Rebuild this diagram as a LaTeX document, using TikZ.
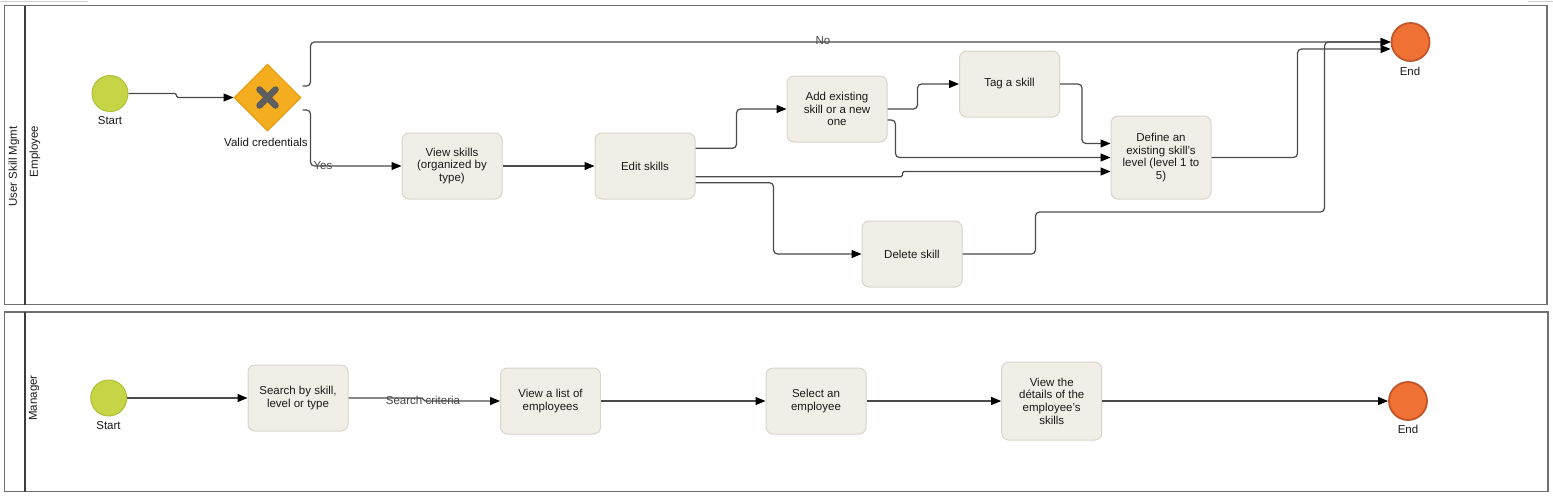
\documentclass[tikz,border=0pt]{standalone}
\usepackage{fontspec}
\setmainfont{Liberation Sans}
\usetikzlibrary{shapes.geometric,arrows.meta,calc}
\definecolor{boxfill}{HTML}{F1EEE7}
\definecolor{boxdraw}{HTML}{D9D5CB}
\definecolor{startfill}{HTML}{C5D545}
\definecolor{startdraw}{HTML}{AEC03A}
\definecolor{endfill}{HTML}{F07134}
\definecolor{enddraw}{HTML}{C2552A}
\definecolor{gwfill}{HTML}{F3AD1F}
\definecolor{gwdraw}{HTML}{E39B0E}
\definecolor{xmark}{HTML}{5E5E5E}
\definecolor{flowc}{HTML}{4A4A4A}
\definecolor{txt}{HTML}{1A1A1A}
\definecolor{lblc}{HTML}{474747}
\definecolor{poolc}{HTML}{707070}
\definecolor{headc}{HTML}{3C3C3C}
\definecolor{faint}{HTML}{CFCFCF}
\begin{document}
\begin{tikzpicture}[x=1pt,y=-1pt,
  font=\fontsize{11.5}{12.6}\selectfont,
  task/.style={draw=boxdraw, fill=boxfill, rounded corners=7pt, minimum width=100pt, minimum height=66pt, align=center, inner sep=2pt, line width=1pt, text=txt},
  startev/.style={circle, draw=startdraw, fill=startfill, minimum size=36pt, inner sep=0pt, line width=1pt},
  endev/.style={circle, draw=enddraw, fill=endfill, minimum size=38pt, inner sep=0pt, line width=1.8pt},
  gateway/.style={diamond, draw=gwdraw, fill=gwfill, minimum width=67pt, minimum height=67pt, inner sep=0pt, line width=1pt},
  flow/.style={draw=flowc, line width=1.2pt, rounded corners=4pt, -{Triangle[length=10pt,width=8pt,color=black]}},
  jog/.style={rounded corners=1.5pt},
  evlabel/.style={text=txt, inner sep=0pt},
  flowlabel/.style={text=lblc, inner sep=0pt},
  pool/.style={draw=poolc, line width=1.6pt},
  header/.style={draw=headc, line width=1.1pt},
  lanelabel/.style={rotate=90, text=txt, inner sep=0pt}]
\useasboundingbox (0,0) rectangle (1553,496);
\fill[white] (0,0) rectangle (1553,496);
% faint frame fragments
\draw[faint, line width=1pt] (0,1) -- (88,1);
\draw[faint, line width=1pt] (1528,1) -- (1553,1);
% pools
\draw[pool] (4.5,5.5) rectangle (1547,304.5);
\draw[header] (25,5.5) -- (25,304.5);
\draw[pool] (4.5,312) rectangle (1548,491.5);
\draw[header] (25,312) -- (25,491.5);
\node[lanelabel] (poolname) at (14,166.5) {User Skill Mgmt};
\node[lanelabel] (laneemp) at (35,151.5) {Employee};
\node[lanelabel] (lanemgr) at (34,398) {Manager};

% ---------- Employee lane ----------
\node[startev] (s1) at (110,93.5) {};
\node[evlabel] (s1l) at (110,121) {Start};
\node[gateway] (gw) at (267.5,97.5) {};
\draw[xmark, line width=6.5pt, line cap=round] ($(gw.center)+(-8,-8)$) -- ($(gw.center)+(8,8)$);
\draw[xmark, line width=6.5pt, line cap=round] ($(gw.center)+(-8,8)$) -- ($(gw.center)+(8,-8)$);
\node[evlabel] (gwl) at (266,142) {Valid credentials};
\node[task] (v1) at (452,166) {View skills\\(organized by\\type)};
\node[task] (ed) at (645,166) {Edit skills};
\node[task] (add) at (837,109) {Add existing\\skill or a new\\one};
\node[task] (tag) at (1009.5,84) {Tag a skill};
\node[task, minimum height=83pt] (def) at (1161,157.5) {Define an\\existing skill's\\level (level 1 to\\5)};
\node[task] (del) at (912,254) {Delete skill};
\node[endev] (e1) at (1410.5,42) {};
\node[evlabel] (e1l) at (1410,71.5) {End};

\draw[flow, jog] (s1.east) -- ++(48,0) |- (gw.west);
\draw[flow] ([xshift=1pt,yshift=11.5pt]gw.east) -- ++(8,0) |- (e1.west);
\node[flowlabel] (nolab) at (823,41) {No};
\draw[flow] ([xshift=1pt,yshift=-12.5pt]gw.east) -- ++(8,0) |- (v1.west);
\node[flowlabel] (yeslab) at (323,166) {Yes};
\draw[flow] (v1.east) -- (ed.west);
\draw[flow] ([yshift=17.7pt]ed.east) -- ++(41,0) |- (add.west);
\draw[flow, jog] ([yshift=-10.7pt]ed.east) -- ++(207,0) |- ([yshift=-14pt]def.west);
\draw[flow] ([yshift=-16.7pt]ed.east) -- ++(78,0) |- (del.west);
\draw[flow] (add.east) -- ++(30,0) |- (tag.west);
\draw[flow] ([yshift=-11pt]add.east) -- ++(8,0) |- (def.west);
\draw[flow] (tag.east) -- ++(22,0) |- ([yshift=14pt]def.west);
\draw[flow] (def.east) -- ++(86,0) |- ([yshift=-7pt]e1.west);
\draw[flow] (del.east) -- ++(73,0) -- ++(0,-42) -- ++(289,0) |- (e1.west);

% ---------- Manager lane ----------
\node[startev] (s2) at (108.7,398) {};
\node[evlabel] (s2l) at (108.5,426) {Start};
\node[task] (srch) at (298,398) {Search by skill,\\level or type};
\node[task] (list) at (550.5,401) {View a list of\\employees};
\node[task] (sel) at (816,401) {Select an\\employee};
\node[task, minimum height=78pt] (det) at (1051.7,401) {View the\\détails of the\\employee's\\skills};
\node[endev] (e2) at (1408,401) {};
\node[evlabel] (e2l) at (1408,429.5) {End};

\draw[flow] (s2.east) -- (srch.west);
\draw[flow, jog] (srch.east) -- ++(75,0) |- (list.west);
\node[flowlabel] (critlab) at (423,400) {Search criteria};
\draw[flow] (list.east) -- (sel.west);
\draw[flow] (sel.east) -- (det.west);
\draw[flow] (det.east) -- (e2.west);
\end{tikzpicture}
\end{document}
